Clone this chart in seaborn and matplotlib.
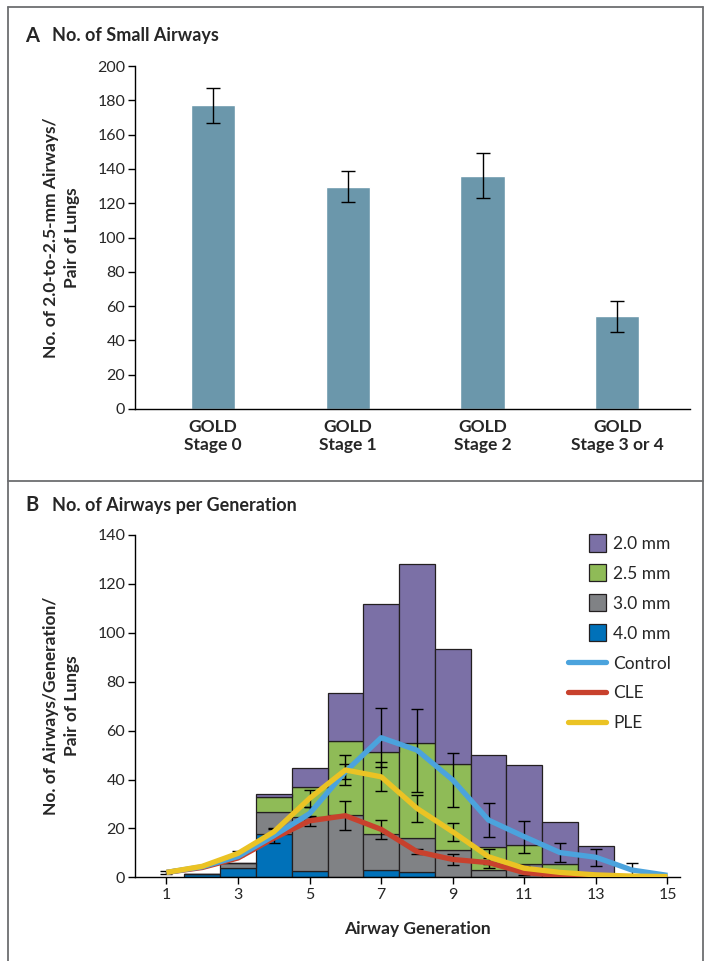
import numpy as np
import pandas as pd
import seaborn as sns
import matplotlib.pyplot as plt
import matplotlib.patches as mpatches
from matplotlib.lines import Line2D
from matplotlib.legend_handler import HandlerPatch

sns.set_theme(style="white")
plt.rcParams['font.family'] = ['Lato', 'DejaVu Sans']

# Panel A: small airways per GOLD stage
stages = ["GOLD\nStage 0", "GOLD\nStage 1", "GOLD\nStage 2", "GOLD\nStage 3 or 4"]
small_airways = [177, 129.5, 136, 54]
small_airways_err = [10, 9, 13, 9]

# Panel B: stacked bars, airways by size per generation
generations = [2, 3, 4, 5, 6, 7, 8, 9, 10, 11, 12, 13]
n_2_0 = [0, 0, 1.3, 7.7, 19.5, 60.4, 73.5, 47.1, 37.6, 32.4, 17.1, 12.3]
n_2_5 = [0, 0, 6.1, 12.3, 30.4, 33.5, 38.9, 35.0, 9.4, 8.0, 4.0, 0]
n_3_0 = [0, 2.0, 9.0, 21.9, 25.3, 15.0, 13.8, 11.2, 3.1, 5.4, 1.5, 0.5]
n_4_0 = [1.5, 4.0, 17.6, 2.6, 0, 2.8, 2.1, 0, 0, 0, 0, 0]
sizes = ["2.0 mm", "2.5 mm", "3.0 mm", "4.0 mm"]

# Panel B: lines per group
line_gens = [1, 2, 3, 4, 5, 6, 7, 8, 9, 10, 11, 12, 13, 14, 15]
control = [2.0, 4.3, 8.5, 17.0, 26.1, 43.2, 57.1, 52.0, 39.8, 23.4, 16.6, 10.1, 8.2, 3.0, 0.8]
cle = [2.0, 4.0, 7.9, 16.0, 23.1, 25.2, 19.6, 10.5, 7.3, 6.0, 1.9, 0.8, 0.2, 0.0, 0.0]
ple = [2.0, 4.5, 9.8, 18.6, 32.3, 43.9, 41.1, 28.2, 18.6, 8.4, 3.7, 2.0, 1.0, 0.5, 0.3]
control_err = [0, 0, 0, 3, 2.5, 3, 12, 17, 11, 7, 6.5, 4, 3.5, 3, 0]
cle_err = [0, 0, 0, 0, 2, 6, 4, 1, 2.4, 2, 1, 0, 0, 0, 0]
ple_err = [0.5, 0, 1, 1, 3.5, 6.3, 6, 5.5, 3.8, 3, 1, 0, 0, 0, 0]

bar_colors = {"2.0 mm": "#7b70a6", "2.5 mm": "#8fbb57", "3.0 mm": "#808285", "4.0 mm": "#0071b9"}
line_colors = {"Control": "#4ba3dd", "CLE": "#c8412d", "PLE": "#ebc324"}

W, H = 712, 961
fig = plt.figure(figsize=(W / 100, H / 100), dpi=100)

def fx(px):
    return px / W

def fy(py):
    return 1 - py / H

# ---- Panel A ----
axA = fig.add_axes([fx(135), fy(409), fx(690 - 135), (409 - 66) / H])
sns.barplot(x=stages, y=small_airways, color="#6b97ab", saturation=1, width=0.33,
            errorbar=None, ax=axA)
axA.errorbar(range(len(stages)), small_airways, yerr=small_airways_err, fmt='none',
             ecolor='black', elinewidth=1, capsize=5, capthick=1)
axA.set_ylim(0, 200)
axA.set_xlim(-0.58, 3.54)
axA.set_yticks(range(0, 201, 20))
axA.set_ylabel("No. of 2.0-to-2.5-mm Airways/\nPair of Lungs", fontsize=12.5,
               fontweight='bold', linespacing=1.35)
axA.yaxis.set_label_coords((80 - 135) / 555, 0.5)
axA.tick_params(axis='y', direction='out', length=5, width=1, color='black',
                labelsize=11.5, left=True, pad=2)
axA.tick_params(axis='x', length=0, labelsize=12.5, pad=7)
for lbl in axA.get_xticklabels():
    lbl.set_fontweight('bold')

# ---- Panel B ----
axB = fig.add_axes([fx(135), fy(877.3), fx(680 - 135), (877.3 - 535) / H])
bars_df = pd.DataFrame({
    "gen": np.tile(generations, 4),
    "size": np.repeat(sizes, len(generations)),
    "count": np.concatenate([n_2_0, n_2_5, n_3_0, n_4_0]),
})
sns.histplot(data=bars_df, x="gen", weights="count", hue="size", hue_order=sizes,
             multiple="stack", discrete=True, shrink=1, palette=bar_colors,
             alpha=1, edgecolor="#231f20", linewidth=0.9, legend=False, ax=axB)

groups = {"Control": (control, control_err), "CLE": (cle, cle_err), "PLE": (ple, ple_err)}
for name, (vals, errs) in groups.items():
    g = [x for x, e in zip(line_gens, errs) if e > 0]
    v = [y for y, e in zip(vals, errs) if e > 0]
    e = [e for e in errs if e > 0]
    axB.errorbar(g, v, yerr=e, fmt='none', ecolor='black', elinewidth=1,
                 capsize=4, capthick=1, zorder=2)

lines_df = pd.DataFrame({
    "gen": line_gens * 3,
    "value": cle + control + ple,
    "group": ["CLE"] * 15 + ["Control"] * 15 + ["PLE"] * 15,
})
sns.lineplot(data=lines_df, x="gen", y="value", hue="group",
             hue_order=["CLE", "Control", "PLE"], palette=line_colors,
             linewidth=3.8, legend=False, zorder=3, ax=axB,
             solid_joinstyle='round', solid_capstyle='butt')

axB.set_ylim(0, 140)
axB.set_xlim(0.12, 15.35)
axB.set_xticks(range(1, 16, 2))
axB.set_yticks(range(0, 141, 20))
axB.set_ylabel("No. of Airways/Generation/\nPair of Lungs", fontsize=12.5,
               fontweight='bold', linespacing=1.35)
axB.yaxis.set_label_coords((80 - 135) / 545, 0.5)
axB.set_xlabel("Airway Generation", fontsize=12.5, fontweight='bold')
axB.xaxis.set_label_coords((417 - 135) / 545, -(921 - 877.3) / 342.3)
axB.xaxis.label.set_va('top')
axB.tick_params(axis='y', direction='out', length=5, width=1, color='black',
                labelsize=11.5, left=True, pad=2)
axB.tick_params(axis='x', direction='out', length=5, width=1, color='black',
                labelsize=11.5, bottom=True, pad=3)

for ax in (axA, axB):
    sns.despine(ax=ax)
    for side in ('left', 'bottom'):
        ax.spines[side].set_color('black')
        ax.spines[side].set_linewidth(1)


def square_patch(legend, orig_handle, xdescent, ydescent, width, height, fontsize):
    s = height * 1.42
    return mpatches.Rectangle((-xdescent + width - s, -ydescent + (height - s) / 2), s, s)


handles = [mpatches.Patch(facecolor=bar_colors[s], edgecolor="#231f20", linewidth=0.9)
           for s in sizes]
handles += [Line2D([], [], color=line_colors[n], linewidth=3.8) for n in ["Control", "CLE", "PLE"]]
labels = sizes + ["Control", "CLE", "PLE"]
axB.legend(handles, labels, loc='upper left', bbox_to_anchor=(fx(568), fy(536)),
           bbox_transform=fig.transFigure, frameon=False, fontsize=12.5,
           handlelength=2.2, handletextpad=0.4, labelspacing=0.8, borderpad=0,
           borderaxespad=0,
           handler_map={mpatches.Patch: HandlerPatch(patch_func=square_patch)})

# ---- Titles and frame ----
fig.text(fx(25), fy(36), "A", fontsize=14.5, fontweight='bold', va='center')
fig.text(fx(52), fy(36), "No. of Small Airways", fontsize=13, fontweight='bold', va='center')
fig.text(fx(25), fy(505), "B", fontsize=14.5, fontweight='bold', va='center')
fig.text(fx(52), fy(505), "No. of Airways per Generation", fontsize=13, fontweight='bold', va='center')

frame_kw = dict(color='#6d6e71', linewidth=1.3, transform=fig.transFigure)
fig.add_artist(Line2D([fx(8), fx(8)], [fy(7), 0], **frame_kw))
fig.add_artist(Line2D([fx(8), fx(703)], [fy(7), fy(7)], **frame_kw))
fig.add_artist(Line2D([fx(703), fx(703)], [fy(7), 0], **frame_kw))
fig.add_artist(Line2D([fx(8), fx(703)], [fy(481), fy(481)], **frame_kw))

fig.savefig("out.png", dpi=100)
